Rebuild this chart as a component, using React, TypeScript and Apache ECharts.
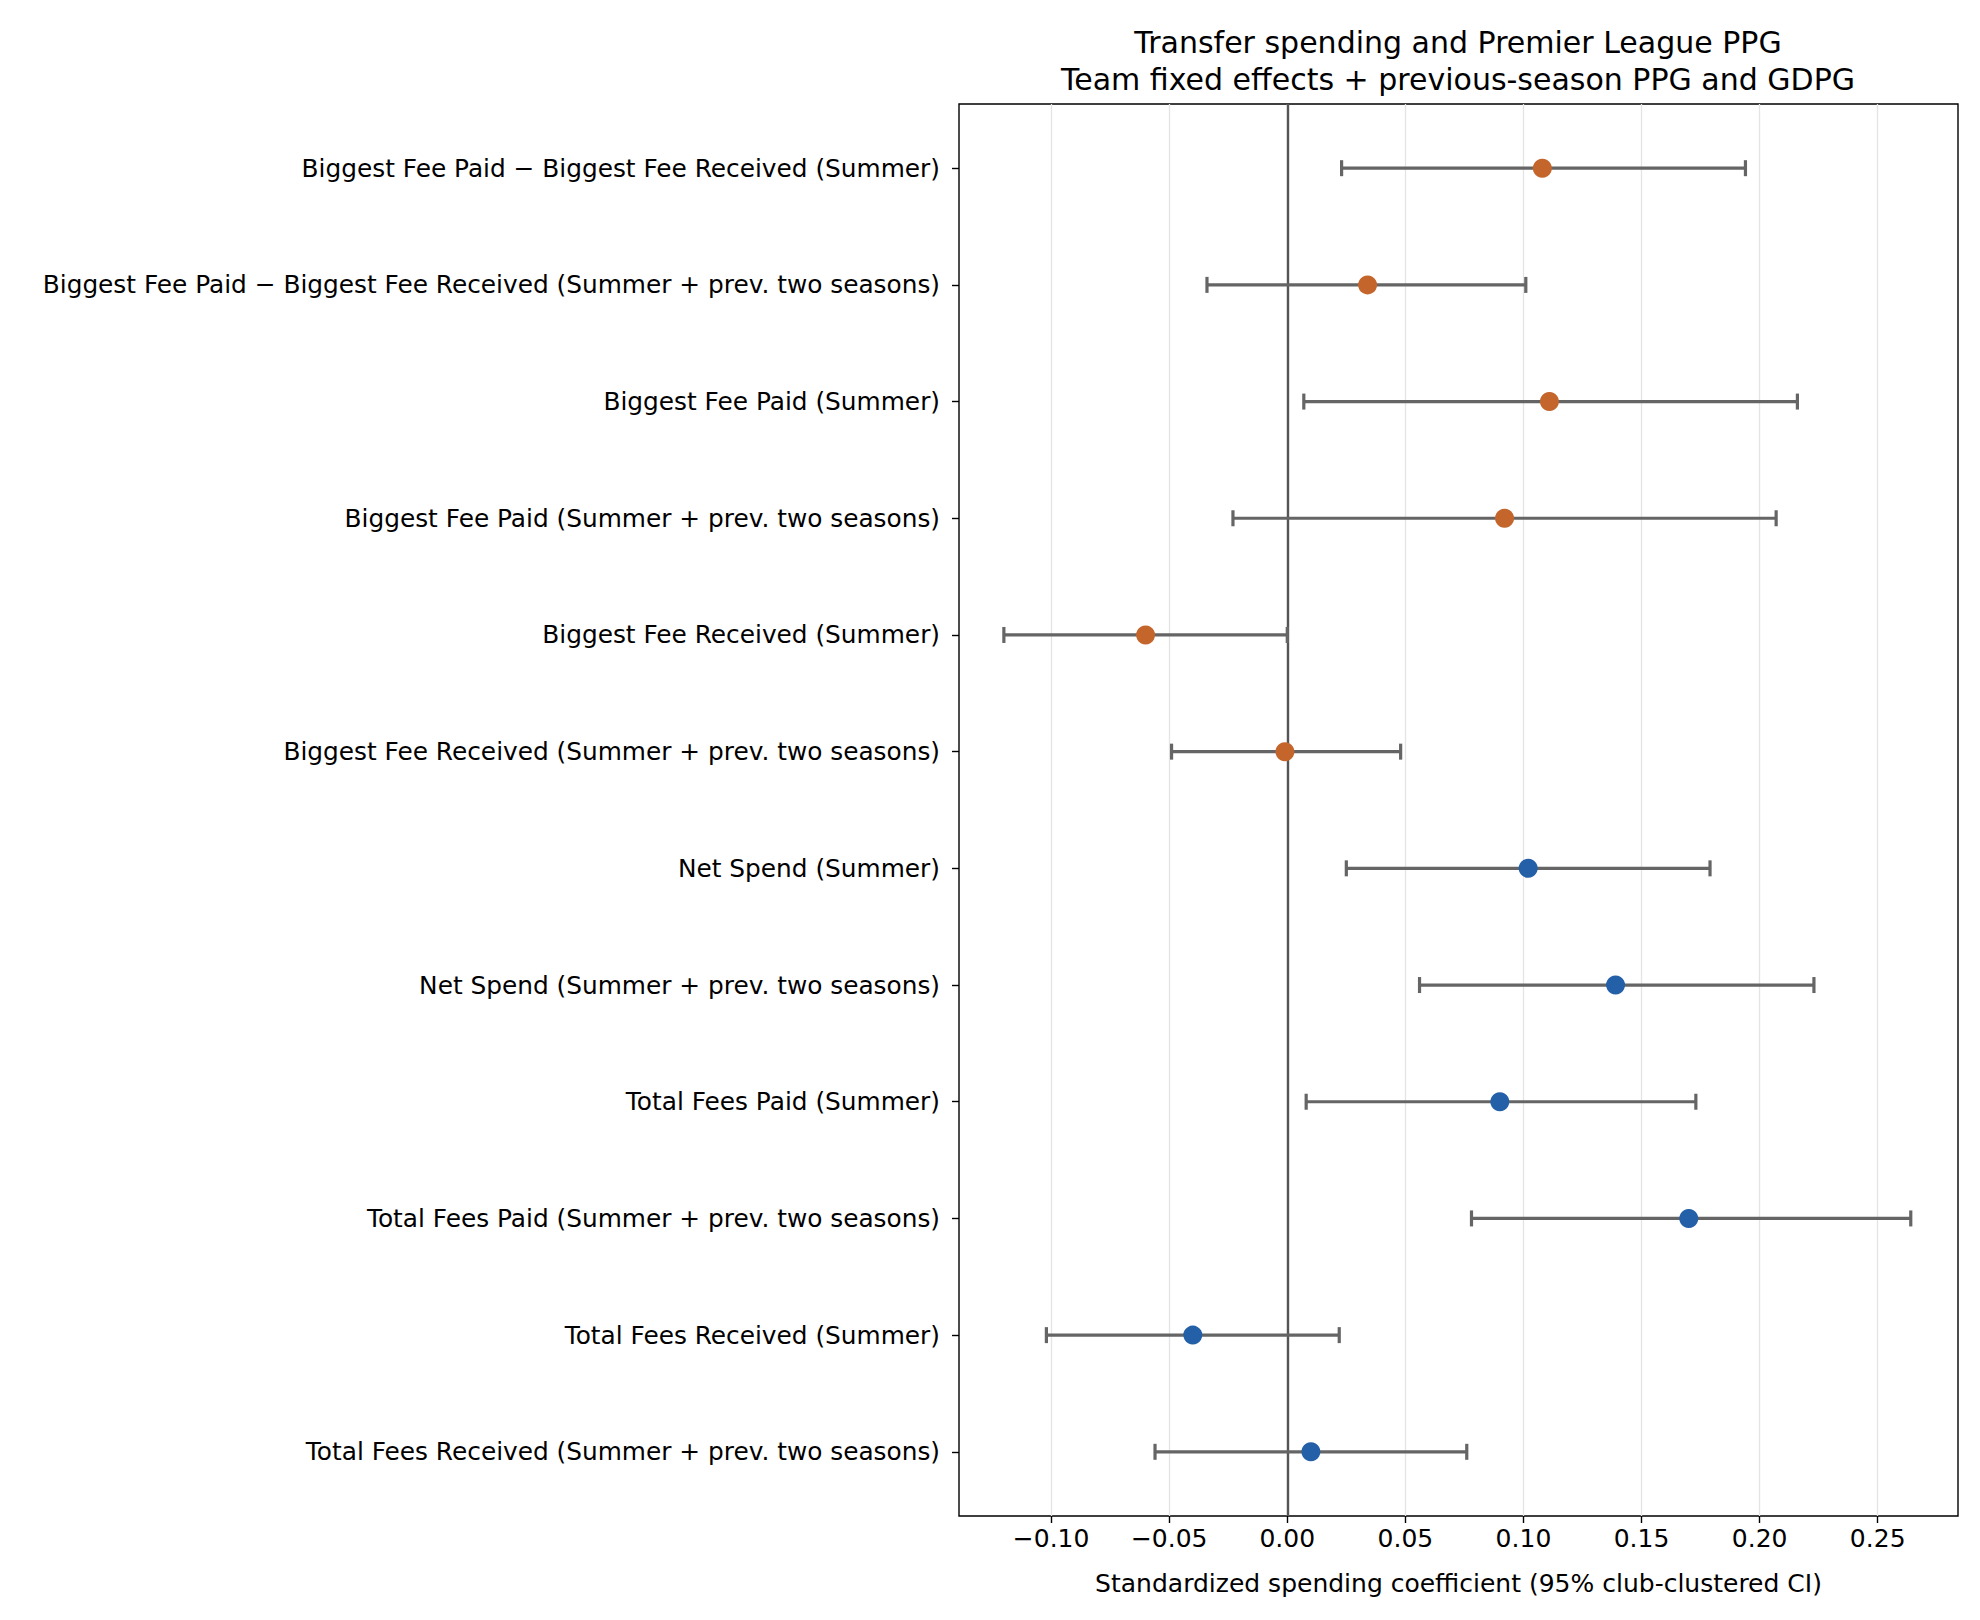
import { useEffect, useRef } from 'react';
import * as echarts from 'echarts';

const categories = [
  'Biggest Fee Paid − Biggest Fee Received (Summer)',
  'Biggest Fee Paid − Biggest Fee Received (Summer + prev. two seasons)',
  'Biggest Fee Paid (Summer)',
  'Biggest Fee Paid (Summer + prev. two seasons)',
  'Biggest Fee Received (Summer)',
  'Biggest Fee Received (Summer + prev. two seasons)',
  'Net Spend (Summer)',
  'Net Spend (Summer + prev. two seasons)',
  'Total Fees Paid (Summer)',
  'Total Fees Paid (Summer + prev. two seasons)',
  'Total Fees Received (Summer)',
  'Total Fees Received (Summer + prev. two seasons)',
];

const coef = [0.108, 0.034, 0.111, 0.092, -0.060, -0.001, 0.102, 0.139, 0.090, 0.170, -0.040, 0.010];
const ciLow = [0.023, -0.034, 0.007, -0.023, -0.120, -0.049, 0.025, 0.056, 0.008, 0.078, -0.102, -0.056];
const ciHigh = [0.194, 0.101, 0.216, 0.207, 0.000, 0.048, 0.179, 0.223, 0.173, 0.264, 0.022, 0.076];
// 'fee' = biggest-fee measures (orange), 'total' = net/total measures (blue)
const group = ['fee', 'fee', 'fee', 'fee', 'fee', 'fee', 'total', 'total', 'total', 'total', 'total', 'total'];

const xTicks = [-0.1, -0.05, 0, 0.05, 0.1, 0.15, 0.2, 0.25];
const rowIndex = categories.map((_, i) => i);

const titleLines = [
  'Transfer spending and Premier League PPG',
  'Team fixed effects + previous-season PPG and GDPG',
];
const xAxisTitle = 'Standardized spending coefficient (95% club-clustered CI)';

const groupColors: Record<string, string> = { fee: '#c4662c', total: '#2360a8' };
const FONT = '"DejaVu Sans", sans-serif';

const App = () => {
  const chartRef = useRef<HTMLDivElement>(null);

  useEffect(() => {
    if (!chartRef.current) return;
    const chart = echarts.init(chartRef.current, undefined, { renderer: 'svg' });

    const fmt = (v: number) => {
      const s = Math.abs(v).toFixed(2);
      return v < -1e-9 ? '−' + s : s;
    };

    chart.setOption({
      animation: false,
      backgroundColor: '#ffffff',
      textStyle: { fontFamily: FONT },
      grid: {
        left: 959,
        right: 22,
        top: 104,
        bottom: 104,
        show: true,
        borderColor: '#000',
        borderWidth: 1.4,
        backgroundColor: 'transparent',
      },
      graphic: titleLines.map((t, i) => ({
        type: 'text',
        x: 1458,
        y: 42 + i * 37,
        style: {
          text: t,
          fill: '#000',
          font: `30px ${FONT}`,
          textAlign: 'center',
          textVerticalAlign: 'middle',
        },
      })),
      xAxis: {
        type: 'value',
        min: -0.139,
        max: 0.284,
        name: xAxisTitle,
        nameLocation: 'middle',
        nameGap: 55,
        nameTextStyle: { color: '#000', fontSize: 25, fontFamily: FONT },
        axisLine: { show: false, onZero: false },
        axisTick: { show: true, customValues: xTicks, length: 7, lineStyle: { color: '#000', width: 1.4 } },
        axisLabel: {
          customValues: xTicks,
          formatter: fmt,
          color: '#000',
          fontSize: 25,
          margin: 10,
          fontFamily: FONT,
        },
        splitLine: { show: true, lineStyle: { color: '#e4e4e4', width: 1.3 } },
      },
      yAxis: {
        type: 'value',
        min: -0.55,
        max: categories.length - 1 + 0.55,
        inverse: true,
        axisLine: { show: false, onZero: false },
        axisTick: { show: true, customValues: rowIndex, length: 7, lineStyle: { color: '#000', width: 1.4 } },
        axisLabel: {
          customValues: rowIndex,
          formatter: (v: number) => categories[Math.round(v)] ?? '',
          color: '#000',
          fontSize: 24.8,
          margin: 19,
          fontFamily: FONT,
        },
        splitLine: { show: false },
      },
      series: [
        {
          type: 'custom',
          z: 3,
          silent: true,
          encode: { x: [0, 1], y: 2 },
          data: categories.map((_, i) => [ciLow[i], ciHigh[i], i]),
          renderItem: (params: any, api: any) => {
            const lo = api.coord([api.value(0), api.value(2)]);
            const hi = api.coord([api.value(1), api.value(2)]);
            const cap = 8;
            const style = { stroke: '#656565', lineWidth: 3.2 };
            return {
              type: 'group',
              children: [
                { type: 'line', shape: { x1: lo[0], y1: lo[1], x2: hi[0], y2: hi[1] }, style },
                { type: 'line', shape: { x1: lo[0], y1: lo[1] - cap, x2: lo[0], y2: lo[1] + cap }, style },
                { type: 'line', shape: { x1: hi[0], y1: hi[1] - cap, x2: hi[0], y2: hi[1] + cap }, style },
              ],
            };
          },
        },
        {
          type: 'scatter',
          z: 4,
          symbol: 'circle',
          symbolSize: 19,
          silent: true,
          data: categories.map((_, i) => ({
            value: [coef[i], i],
            itemStyle: { color: groupColors[group[i]], opacity: 1 },
          })),
          markLine: {
            silent: true,
            symbol: ['none', 'none'],
            label: { show: false },
            lineStyle: { color: '#555555', width: 2.4, type: 'solid', opacity: 1 },
            data: [{ xAxis: 0 }],
            z: 2,
          },
        },
      ],
    });

    return () => {
      chart.dispose();
    };
  }, []);

  return (
    <div
      ref={chartRef}
      style={{ position: 'absolute', left: 0, top: 0, width: '1980px', height: '1620px' }}
    />
  );
};

export default App;
